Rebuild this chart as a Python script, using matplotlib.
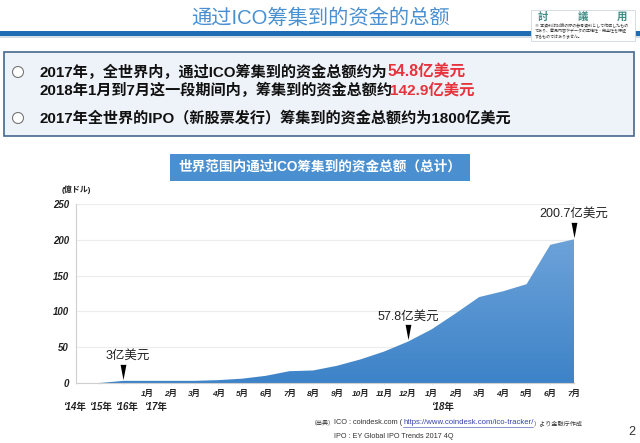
#!/usr/bin/env python3
"""ICO fundraising total slide: header, text box and cumulative area chart."""

import matplotlib
matplotlib.use('Agg')
import matplotlib.pyplot as plt
from matplotlib.patches import Rectangle, Polygon
from matplotlib.path import Path
import numpy as np

plt.rcParams['font.family'] = ['Liberation Sans', 'Noto Sans CJK SC', 'DejaVu Sans']

# Chart data (cumulative)
positions = list(range(22))
totals = [0, 0, 3, 3, 3, 3, 4, 6, 10, 16.5, 17.5, 24, 33, 44, 57.8, 75, 97, 120, 128, 138, 193, 200.7]
month_labels = ['1月', '2月', '3月', '4月', '5月', '6月', '7月', '8月', '9月', '10月', '11月', '12月',
                '1月', '2月', '3月', '4月', '5月', '6月', '7月']
year_labels = ["‘14年", "‘15年", "‘16年", "‘17年", "‘18年"]
year_positions = [-0.04, 1.05, 2.15, 3.37, 15.48]
y_ticks = [0, 50, 100, 150, 200, 250]
callout_labels = ['3亿美元', '57.8亿美元', '200.7亿美元']
callout_positions = [2, 14, 21]
callout_shift = [4, 0, 0]

W, H = 640, 443
fig = plt.figure(figsize=(W / 100, H / 100), dpi=100, facecolor='white')

# Full-figure layer in pixel coordinates for the slide furniture
bg = fig.add_axes([0, 0, 1, 1])
bg.set_xlim(0, W)
bg.set_ylim(H, 0)
bg.axis('off')

bg.text(320, 18, '通过ICO筹集到的资金的总额', color='#4a90d0', fontsize=14.6, ha='center', va='center')
bg.add_patch(Rectangle((0, 31), W, 5, color='#1f6db5', lw=0))
bg.add_patch(Rectangle((0, 36), W, 2, color='#d5dde5', lw=0))

# Stamp in the top right corner
bg.add_patch(Rectangle((531, 10), 104, 31, fc='white', ec='#cfd8e0', lw=0.6, zorder=3))
for x, ch in zip([543, 583, 622], ['討', '議', '用']):
    bg.text(x, 17, ch, color='#3f8f86', fontsize=7.5, fontweight='bold', ha='center', va='center', zorder=4)
for y, line in zip([26, 31, 37], ['※ 本資料は討論の際の参考資料として作成したもの',
                                  'であり、意見内容やデータの正確性・完全性を保証',
                                  'するものではありません。']):
    bg.text(535, y, line, color='#333333', fontsize=2.9, ha='left', va='center', zorder=4)

# Summary box
bg.add_patch(Rectangle((4, 52), 630, 84, fc='#eef3f9', ec='#44688f', lw=1.2))
for y in [72, 118]:
    bg.add_patch(plt.Circle((18, y), 5.5, fc='white', ec='#777777', lw=0.8))
bg.text(39, 72, '2017年，全世界内，通过ICO筹集到的资金总额约为', fontsize=10.9, color='#111111',
        fontweight='bold', ha='left', va='center')
bg.text(387, 72, '54.8亿美元', fontsize=11.3, color='#e8323c', fontweight='bold', ha='left', va='center')
bg.text(39, 90, '2018年1月到7月这一段期间内，筹集到的资金总额约', fontsize=10.9, color='#111111',
        fontweight='bold', ha='left', va='center')
bg.text(390, 90, '142.9亿美元', fontsize=11.1, color='#e8323c', fontweight='bold', ha='left', va='center')
bg.text(39, 118, '2017年全世界的IPO（新股票发行）筹集到的资金总额约为1800亿美元', fontsize=10.9,
        color='#111111', fontweight='bold', ha='left', va='center')

# Chart heading
bg.add_patch(Rectangle((170, 154), 300, 27, color='#4a90d0', lw=0))
bg.text(320, 167, '世界范围内通过ICO筹集到的资金总额（总计）', color='white', fontsize=9.8,
        fontweight='bold', ha='center', va='center')

# Chart axes: x index 0 sits on the y axis at 76 px, index 21 at 574 px
x0, x1, y_base, y_top = 76, 574, 383, 204
ax = fig.add_axes([x0 / W, 1 - y_base / H, (x1 - x0) / W, (y_base - y_top) / H])
ax.patch.set_alpha(0)
ax.set_xlim(0, 21)
ax.set_ylim(0, 250)
ax.set_yticks(y_ticks)
ax.set_xticks(positions)
ax.set_xticklabels([])
ax.tick_params(axis='x', length=2, direction='inout', color='#dddddd')
ax.tick_params(axis='y', length=0, pad=5)
for label in ax.get_yticklabels():
    label.set_fontsize(7)
    label.set_fontstyle('italic')
    label.set_fontweight('bold')
    label.set_color('#222222')
ax.grid(axis='y', color='#ececec', lw=0.8)
ax.set_axisbelow(True)
for side in ['top', 'right']:
    ax.spines[side].set_visible(False)
ax.spines['left'].set_color('#cfcfcf')
ax.spines['bottom'].set_color('#cfcfcf')

# Area with a soft vertical gradient
area = Polygon(list(zip(positions, totals)) + [(21, 0), (0, 0)], closed=True, fc='none', ec='none')
ax.add_patch(area)
gradient = np.linspace(0, 1, 256).reshape(-1, 1)
cmap = matplotlib.colors.LinearSegmentedColormap.from_list('area', ['#6ea3da', '#3d83c8'])
im = ax.imshow(gradient, extent=[0, 21, 0, 205], aspect='auto', cmap=cmap, origin='upper', zorder=2)
im.set_clip_path(area)
ax.set_xlim(0, 21)
ax.set_ylim(0, 250)

# Callouts: tall black wedge above the point, label above that
wedge = Path([(-0.38, 1), (0.38, 1), (0, -1), (-0.38, 1)], closed=True)
for pos, text, shift in zip(callout_positions, callout_labels, callout_shift):
    value = totals[pos]
    ax.plot([pos], [value + 13], marker=wedge, markersize=11, color='black', mew=0, zorder=5, clip_on=False)
    ax.annotate(text, xy=(pos, value), xytext=(shift * 0.72, 18), textcoords='offset points',
                ha='center', va='center', fontsize=9, color='#222222', zorder=5, annotation_clip=False)

# Month and year labels under the axis
for pos, label in zip(positions[3:], month_labels):
    ax.annotate(label, xy=(pos, 0), xytext=(0, -8), textcoords='offset points', ha='center', va='center',
                fontsize=6, fontweight='bold', fontstyle='italic', color='#222222', annotation_clip=False)
for pos, label in zip(year_positions, year_labels):
    ax.annotate(label, xy=(pos, 0), xytext=(0, -17.3), textcoords='offset points', ha='center', va='center',
                fontsize=6.9, fontweight='bold', fontstyle='italic', color='#222222', annotation_clip=False)

# Unit label and sources
bg.text(76, 190, '(億ドル)', fontsize=5.8, fontweight='bold', color='#222222', ha='center', va='center')
bg.text(311, 423, '（出典）', fontsize=4.3, color='#333333', ha='left', va='center')
bg.text(334, 423, 'ICO : coindesk.com (', fontsize=5.3, color='#333333', ha='left', va='center')
bg.text(403, 423, 'https://www.coindesk.com/ico-tracker/', fontsize=5.55, color='#3344aa', ha='left', va='center')
bg.plot([403, 533], [427, 427], color='#3344aa', lw=0.4)
bg.text(534, 423, '）より金融庁作成', fontsize=4.4, color='#333333', ha='left', va='center')
bg.text(334, 436, 'IPO : EY Global IPO Trends 2017 4Q', fontsize=5.2, color='#333333', ha='left', va='center')
bg.text(632, 432, '2', fontsize=9, color='#333333', ha='center', va='center')

fig.savefig('out.png', dpi=100)
